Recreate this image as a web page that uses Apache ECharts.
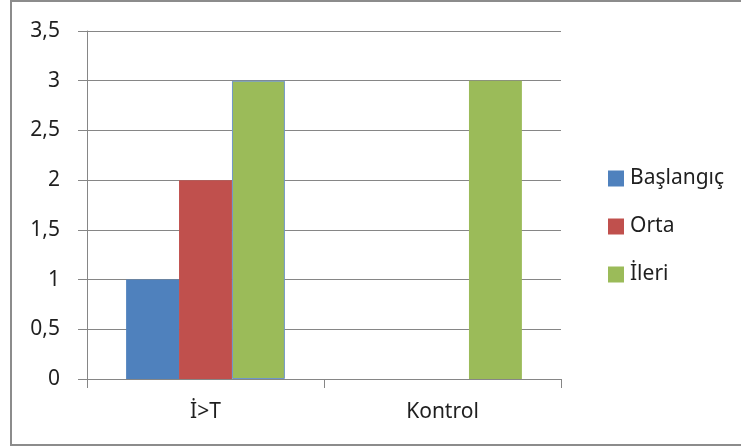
<!DOCTYPE html>
<html>
<head>
<meta charset="utf-8">
<script src="https://cdn.jsdelivr.net/npm/echarts@6/dist/echarts.min.js"></script>
<style>
  html, body { margin: 0; padding: 0; background: #ffffff; }
  #chart { width: 741px; height: 448px; }
</style>
</head>
<body>
<div id="chart"></div>
<script>
// Groups on the category axis
const categories = ['İ>T', 'Kontrol'];

// Level counts per group
const baslangic = [1, 0];
const orta = [2, 0];
const ileri = [3, 3];

// Value axis range
const yMin = 0;
const yMax = 3.5;
const yStep = 0.5;

const font = '"Noto Sans", "Open Sans", sans-serif';
const fontSize = 21;
const textColor = '#1f1f1f';
const gridColor = '#868686';

const chart = echarts.init(document.getElementById('chart'), null, { renderer: 'canvas' });

chart.setOption({
  animation: false,
  backgroundColor: '#ffffff',
  graphic: [{
    type: 'rect',
    shape: { x: 11, y: 1, width: 740, height: 444 },
    style: { fill: 'none', stroke: '#8c8c8c', lineWidth: 2 },
    silent: true
  }],
  grid: { left: 87, top: 31, right: 180, bottom: 69, containLabel: false },
  legend: {
    orient: 'vertical',
    left: 603,
    top: 163,
    itemWidth: 16,
    itemHeight: 16,
    itemGap: 27,
    icon: 'rect',
    textStyle: { fontFamily: font, fontSize: fontSize, color: textColor, padding: [0, 0, 0, 1] },
    data: ['Başlangıç', 'Orta', 'İleri']
  },
  xAxis: {
    type: 'category',
    data: categories,
    axisLine: { lineStyle: { color: gridColor, width: 1 } },
    axisTick: { show: true, length: 9, lineStyle: { color: gridColor } },
    axisLabel: { fontFamily: font, fontSize: fontSize, color: textColor, margin: 23 }
  },
  yAxis: {
    type: 'value',
    min: yMin,
    max: yMax,
    interval: yStep,
    axisLine: { show: true, lineStyle: { color: gridColor, width: 1 } },
    axisTick: { show: true, length: 9, lineStyle: { color: gridColor } },
    splitLine: { lineStyle: { color: gridColor, width: 1 } },
    axisLabel: {
      fontFamily: font, fontSize: fontSize, color: textColor, margin: 27,
      formatter: v => String(v).replace('.', ',')
    }
  },
  series: [
    {
      name: 'Başlangıç', type: 'bar', data: baslangic,
      barGap: '0%', barCategoryGap: '33%',
      itemStyle: { color: '#4f81bd' }
    },
    {
      name: 'Orta', type: 'bar', data: orta,
      barGap: '0%', barCategoryGap: '33%',
      itemStyle: { color: '#c0504d' }
    },
    {
      name: 'İleri', type: 'bar',
      data: ileri.map((v, i) => i === 0
        ? { value: v, itemStyle: { borderColor: '#6f96c8', borderWidth: 1 } }
        : v),
      barGap: '0%', barCategoryGap: '33%',
      itemStyle: { color: '#9bbb59' }
    }
  ]
});
</script>
</body>
</html>
